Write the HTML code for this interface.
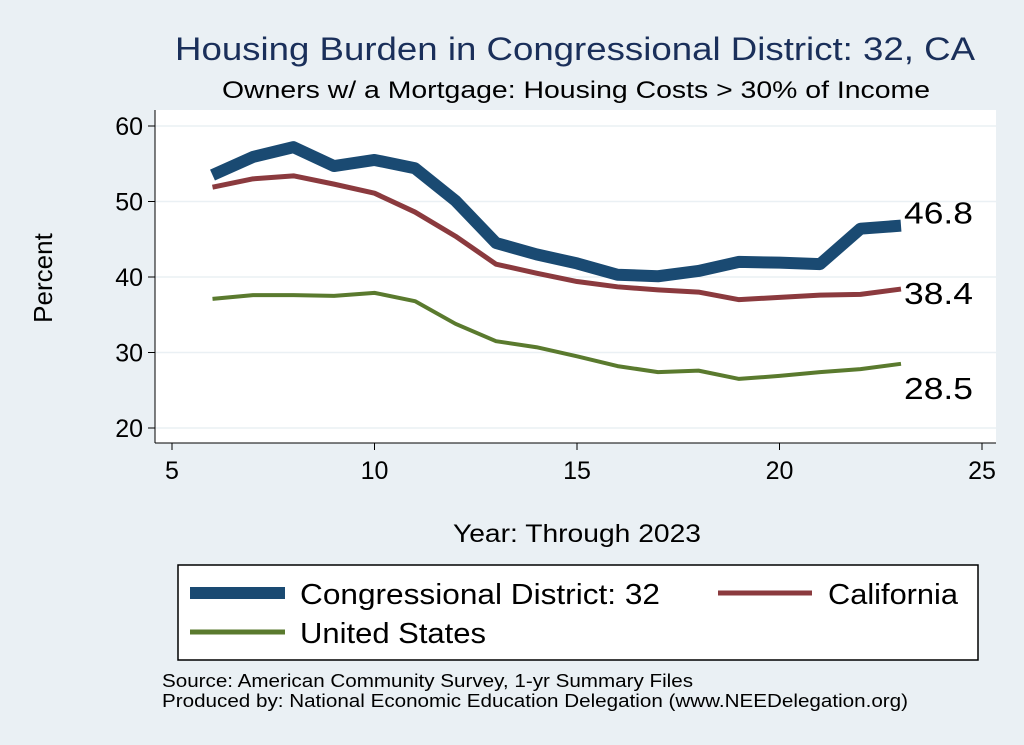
<!DOCTYPE html>
<html><head><meta charset="utf-8">
<style>
body{margin:0;background:#eaf0f4;}
svg{display:block;font-family:"Liberation Sans",Arial,sans-serif;}
</style></head>
<body>
<svg id="chart" width="1024" height="745" xmlns="http://www.w3.org/2000/svg" xml:space="preserve">
<rect x="0" y="0" width="1024" height="745" fill="#eaf0f4"/>
<rect x="155" y="110" width="841" height="333" fill="#ffffff"/>
<text x="175" y="60" font-size="32" fill="#1a2f5a" textLength="800" lengthAdjust="spacingAndGlyphs">Housing Burden in Congressional District:  32, CA</text>
<text x="222" y="98" font-size="24" fill="#000" textLength="708" lengthAdjust="spacingAndGlyphs">Owners w/ a Mortgage: Housing Costs &gt; 30% of Income</text>
<g id="grid"></g>
<g id="axes"></g>
<g id="series"></g>
<text x="52" y="278" font-size="26" text-anchor="middle" transform="rotate(-90 52 278)">Percent</text>
<text x="453" y="542" font-size="25" textLength="248" lengthAdjust="spacingAndGlyphs">Year: Through 2023</text>
<g>
<rect x="178" y="565" width="800" height="95" fill="#fff" stroke="#000" stroke-width="1.5"/>
<line x1="190" y1="593" x2="285" y2="593" stroke="#1a4a72" stroke-width="12"/>
<text x="300" y="604" font-size="29" textLength="360" lengthAdjust="spacingAndGlyphs">Congressional District:  32</text>
<line x1="718" y1="593" x2="812" y2="593" stroke="#8b3a3e" stroke-width="5"/>
<text x="828" y="604" font-size="29" textLength="130" lengthAdjust="spacingAndGlyphs">California</text>
<line x1="190" y1="632" x2="285" y2="632" stroke="#5a7a2e" stroke-width="5"/>
<text x="300" y="643" font-size="29" textLength="186" lengthAdjust="spacingAndGlyphs">United States</text>
</g>
<text x="162" y="687" font-size="18" textLength="531" lengthAdjust="spacingAndGlyphs">Source: American Community Survey, 1-yr Summary Files</text>
<text x="162" y="707" font-size="18" textLength="746" lengthAdjust="spacingAndGlyphs">Produced by: National Economic Education Delegation (www.NEEDelegation.org)</text>
</svg>
<script>
const years=[6,7,8,9,10,11,12,13,14,15,16,17,18,19,20,21,22,23];
const district=[53.5,55.9,57.2,54.7,55.5,54.4,50.1,44.5,43.0,41.8,40.3,40.1,40.8,42.0,41.9,41.7,46.4,46.8];
const california=[51.9,53.0,53.4,52.3,51.1,48.6,45.4,41.7,40.5,39.4,38.7,38.3,38.0,37.0,37.3,37.6,37.7,38.4];
const us=[37.1,37.6,37.6,37.5,37.9,36.8,33.8,31.5,30.7,29.5,28.2,27.4,27.6,26.5,26.9,27.4,27.8,28.5];
const xTicks=[5,10,15,20,25];
const yTicks=[20,30,40,50,60];
const NS="http://www.w3.org/2000/svg";
function xs(v){return 172+(v-5)*40.5;}
function ys(v){return 428-(v-20)*7.55;}
function mk(tag,attrs,parent){const e=document.createElementNS(NS,tag);for(const k in attrs)e.setAttribute(k,attrs[k]);parent.appendChild(e);return e;}
const grid=document.getElementById('grid'),axes=document.getElementById('axes'),ser=document.getElementById('series');
yTicks.forEach(t=>{
 const g=mk('line',{x1:155,x2:996,y1:ys(t),y2:ys(t),stroke:'#eaf0f4','stroke-width':1.5},grid);
 
 
 const tk=mk('line',{x1:148,x2:155,y1:ys(t),y2:ys(t),stroke:'#000'},axes);
 
 
 const tx=mk('text',{x:143,y:ys(t)+9,'font-size':25,'text-anchor':'end'},axes);
 tx.textContent=t;
 
 
});
xTicks.forEach(t=>{
 const tk=mk('line',{x1:xs(t),x2:xs(t),y1:443,y2:450,stroke:'#000'},axes);
 
 
 const tx=mk('text',{x:xs(t),y:479,'font-size':25,'text-anchor':'middle'},axes);
 tx.textContent=t;
 
 
});
const ya=mk('line',{x1:155,x2:155,y1:110,y2:443,stroke:'#000'},axes);


const xa=mk('line',{x1:155,x2:996,y1:443,y2:443,stroke:'#000'},axes);


const defs=[[district,'#1a4a72',12,'line-district','label-district',-2],[california,'#8b3a3e',5,'line-california','label-california',15],[us,'#5a7a2e',4,'line-us','label-us',35]];
defs.forEach(([d,c,w,n,ln,dy])=>{
 const p=mk('polyline',{points:years.map((y,i)=>xs(y)+','+ys(d[i])).join(' '),fill:'none',stroke:c,'stroke-width':w,'stroke-linejoin':'round'},ser);
 
 
 const last=d.length-1;
 const t=mk('text',{x:xs(years[last])+3,y:ys(d[last])+dy,'font-size':31,textLength:69,lengthAdjust:'spacingAndGlyphs'},ser);
 t.textContent=d[last].toFixed(1);
 
 
});
</script>
</body></html>
